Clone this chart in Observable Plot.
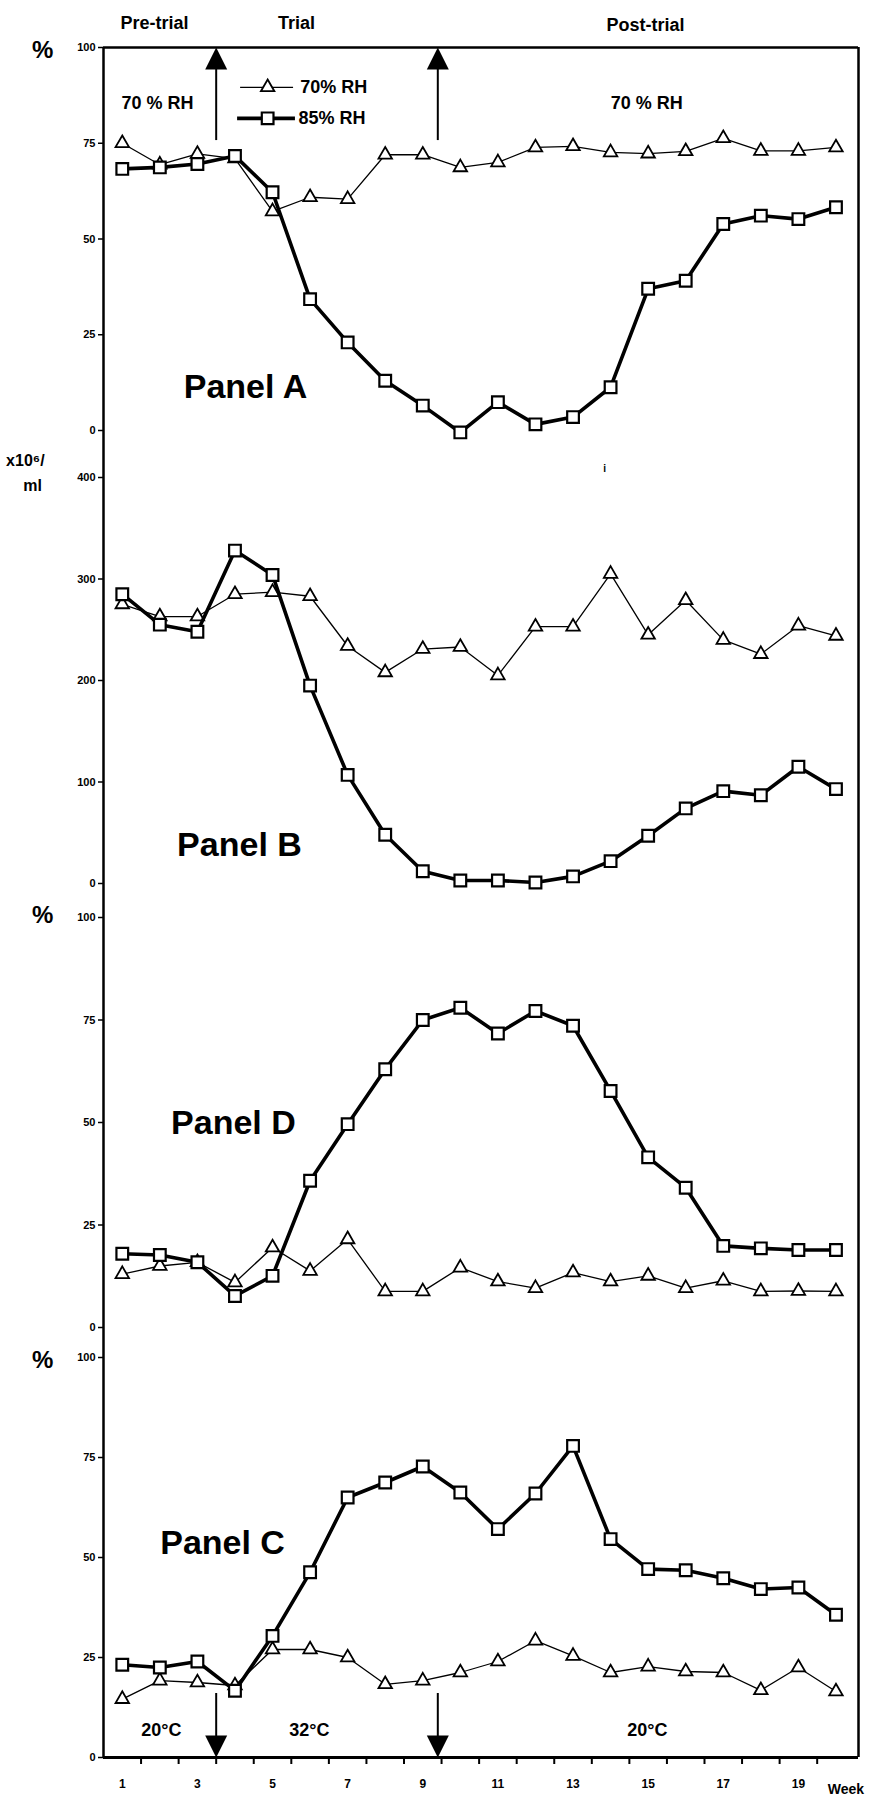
<!DOCTYPE html>
<html><head><meta charset="utf-8">
<script src="https://cdn.jsdelivr.net/npm/d3@7"></script>
<script src="https://cdn.jsdelivr.net/npm/@observablehq/plot@0.6"></script>
<style>
html,body{margin:0;padding:0;background:#fff;}
#chart{position:relative;width:877px;height:1802px;overflow:hidden;background:#fff;}
#chart svg{position:absolute;left:0;overflow:visible;}
</style></head><body><div id="chart"></div>
<script>
// ---- data ----
const weeks = [1,2,3,4,5,6,7,8,9,10,11,12,13,14,15,16,17,18,19,20];
const weekLabels = [1,3,5,7,9,11,13,15,17,19];
const weekTicks = [1.5,2.5,3.5,4.5,5.5,6.5,7.5,8.5,9.5,10.5,11.5,12.5,13.5,14.5,15.5,16.5,17.5,18.5,19.5];
const phaseChanges = [3.5, 9.4];
const seriesNames = ["70% RH", "85% RH"];

// Panel A (%)
const panelA_rh70 = [75, 69.4, 72.2, 71, 57.2, 60.9, 60.4, 72, 72, 68.7, 70, 73.9, 74.2, 72.6, 72.3, 72.9, 76.3, 73, 73, 73.9];
const panelA_rh85 = [68.3, 68.7, 69.6, 71.7, 62.2, 34.3, 23, 13, 6.5, -0.5, 7.4, 1.6, 3.5, 11.3, 37, 39.1, 53.9, 56.1, 55.2, 58.3];
// Panel B (x10^6/ml)
const panelB_rh70 = [275, 263, 263, 285, 287, 283, 234, 208, 231, 233, 205, 253, 253, 305, 245, 279, 240, 226, 254, 244];
const panelB_rh85 = [285, 255, 248, 328, 304, 195, 107, 48, 12, 3, 3, 1, 7, 22, 47, 74, 91, 87, 115, 93];
// Panel D (%)
const panelD_rh70 = [13, 15, 15.9, 11, 19.5, 13.8, 21.5, 8.8, 8.8, 14.6, 11.2, 9.6, 13.4, 11.2, 12.6, 9.6, 11.4, 8.8, 8.9, 8.8];
const panelD_rh85 = [18, 17.7, 15.9, 7.7, 12.6, 35.8, 49.6, 63, 75, 78, 71.7, 77.2, 73.6, 57.7, 41.5, 34.1, 19.9, 19.3, 18.9, 18.9];
// Panel C (%)
const panelC_rh70 = [14.6, 19.2, 18.75, 18, 27, 27, 25, 18.3, 19.2, 21.25, 24, 29.2, 25.4, 21.25, 22.7, 21.5, 21.25, 16.8, 22.5, 16.5];
const panelC_rh85 = [23.2, 22.5, 24, 16.7, 30.4, 46.3, 65, 68.75, 72.75, 66.25, 57.1, 66, 77.9, 54.6, 47.1, 46.8, 44.8, 42.1, 42.5, 35.7];

const pctTicks = [0, 25, 50, 75, 100];
const countTicks = [0, 100, 200, 300, 400];

// ---- drawing ----
const FONT = '"Liberation Sans", Arial, Helvetica, sans-serif';
const xDomain = [0.5, 20.6];
const chart = document.getElementById("chart");

const arrowUp = {draw(ctx, size){const s = Math.sqrt(size); ctx.moveTo(0,0); ctx.lineTo(-s/2, s); ctx.lineTo(s/2, s); ctx.closePath();}};
const arrowDown = {draw(ctx, size){const s = Math.sqrt(size); ctx.moveTo(0,0); ctx.lineTo(-s/2, -s); ctx.lineTo(s/2, -s); ctx.closePath();}};

const rows = arr => weeks.map((w, i) => ({week: w, value: arr[i]}));
const bold = {fontWeight: "bold", fontFamily: FONT, fill: "black"};

function panel(o) {
  const marks = [
    Plot.ruleX(xDomain, {stroke: "black", strokeWidth: 2.5, insetTop: -o.extTop, insetBottom: -o.extBottom}),
    Plot.axisY({ticks: o.yTicks, tickSize: 5, tickPadding: 3, fontSize: 11, fontWeight: "bold", label: null, strokeWidth: 1.5}),
    ...(o.before || []),
    Plot.line(rows(o.s70), {x: "week", y: "value", stroke: "black", strokeWidth: 1.3}),
    Plot.dot(rows(o.s70), {x: "week", y: "value", symbol: "triangle", r: 5, fill: "white", stroke: "black", strokeWidth: 1.8}),
    Plot.line(rows(o.s85), {x: "week", y: "value", stroke: "black", strokeWidth: 3.6}),
    Plot.dot(rows(o.s85), {x: "week", y: "value", symbol: "square", r: 6.6, fill: "white", stroke: "black", strokeWidth: 2.2}),
    Plot.text([o.name], {x: o.nameX, y: o.nameY, fontSize: 34, ...bold}),
    ...(o.after || [])
  ];
  const svg = Plot.plot({
    width: 877, height: o.height,
    marginLeft: 103, marginRight: 19, marginTop: o.mt, marginBottom: o.mb,
    x: o.xAxis ? {domain: xDomain} : {domain: xDomain, axis: null},
    y: {domain: o.yDomain},
    style: {fontFamily: FONT, background: "transparent", color: "black", overflow: "visible"},
    marks
  });
  svg.style.top = o.top + "px";
  chart.append(svg);
}

// Panel A
panel({
  name: "Panel A", nameX: 4.28, nameY: 11.2,
  s70: panelA_rh70, s85: panelA_rh85,
  yDomain: [0, 100], yTicks: pctTicks,
  top: 0, height: 455, mt: 47, mb: 25, extTop: 0, extBottom: 25,
  before: [
    Plot.ruleY([100], {stroke: "black", strokeWidth: 2.5}),
    Plot.ruleX(phaseChanges, {y1: 75.7, y2: 95, stroke: "black", strokeWidth: 2}),
    Plot.dot(phaseChanges, {x: d => d, y: 100, symbol: arrowUp, r: 12.4, fill: "black", stroke: null}),
    Plot.text(["%"], {x: -1.12, y: 99.2, fontSize: 24, ...bold}),
    Plot.text(["Pre-trial"], {x: 1.86, y: 106.3, fontSize: 18, ...bold}),
    Plot.text(["Trial"], {x: 5.64, y: 106.3, fontSize: 18, ...bold}),
    Plot.text(["Post-trial"], {x: 14.93, y: 105.7, fontSize: 18, ...bold}),
    Plot.text(["70 % RH"], {x: 1.94, y: 85.4, fontSize: 18, ...bold}),
    Plot.text(["70 % RH"], {x: 14.96, y: 85.4, fontSize: 18, ...bold}),
    // legend
    Plot.ruleY([89.6], {x1: 4.15, x2: 5.56, stroke: "black", strokeWidth: 1.3}),
    Plot.dot([seriesNames[0]], {x: 4.87, y: 89.6, symbol: "triangle", r: 5, fill: "white", stroke: "black", strokeWidth: 1.8}),
    Plot.text([seriesNames[0]], {x: 5.74, y: 89.6, textAnchor: "start", fontSize: 18, ...bold}),
    Plot.ruleY([81.5], {x1: 4.07, x2: 5.61, stroke: "black", strokeWidth: 3.6}),
    Plot.dot([seriesNames[1]], {x: 4.87, y: 81.5, symbol: "square", r: 6.6, fill: "white", stroke: "black", strokeWidth: 2.2}),
    Plot.text([seriesNames[1]], {x: 5.69, y: 81.5, textAnchor: "start", fontSize: 18, ...bold})
  ]
});

// Panel B
panel({
  name: "Panel B", nameX: 4.12, nameY: 37.4,
  s70: panelB_rh70, s85: panelB_rh85,
  yDomain: [0, 400], yTicks: countTicks,
  top: 455, height: 445, mt: 22, mb: 17, extTop: 22, extBottom: 17,
  before: [
    Plot.text(["x10\u2076/"], {x: -1.58, y: 416.7, fontSize: 16, ...bold}),
    Plot.text(["ml"], {x: -1.39, y: 392, fontSize: 16, ...bold}),
    Plot.text(["i"], {x: 13.84, y: 408.9, fontSize: 10, ...bold})
  ]
});

// Panel D
panel({
  name: "Panel D", nameX: 3.96, nameY: 49.8,
  s70: panelD_rh70, s85: panelD_rh85,
  yDomain: [0, 100], yTicks: pctTicks,
  top: 900, height: 440, mt: 17, mb: 13, extTop: 17, extBottom: 13,
  before: [
    Plot.text(["%"], {x: -1.12, y: 100.5, fontSize: 24, ...bold})
  ]
});

// Panel C
panel({
  name: "Panel C", nameX: 3.67, nameY: 53.5,
  s70: panelC_rh70, s85: panelC_rh85,
  yDomain: [0, 100], yTicks: pctTicks,
  top: 1340, height: 462, mt: 17, mb: 45, extTop: 17, extBottom: 0,
  xAxis: true,
  before: [
    Plot.ruleY([0], {stroke: "black", strokeWidth: 3}),
    Plot.axisX({ticks: weekTicks, tickSize: 7, tickFormat: () => "", label: null, strokeWidth: 2}),
    Plot.axisX({ticks: weekLabels, tickSize: 0, tickPadding: 22, fontSize: 12, fontWeight: "bold", label: null}),
    Plot.text(["Week"], {x: 19.78, y: -8, textAnchor: "start", fontSize: 14, ...bold}),
    Plot.ruleX(phaseChanges, {y1: 16, y2: 4, stroke: "black", strokeWidth: 2}),
    Plot.dot(phaseChanges, {x: d => d, y: 0, symbol: arrowDown, r: 12.4, fill: "black", stroke: null}),
    Plot.text(["%"], {x: -1.12, y: 99.25, fontSize: 24, ...bold}),
    Plot.text(["20°C"], {x: 2.04, y: 6.75, fontSize: 18, ...bold}),
    Plot.text(["32°C"], {x: 5.98, y: 6.75, fontSize: 18, ...bold}),
    Plot.text(["20°C"], {x: 14.98, y: 6.75, fontSize: 18, ...bold})
  ]
});
</script></body></html>
